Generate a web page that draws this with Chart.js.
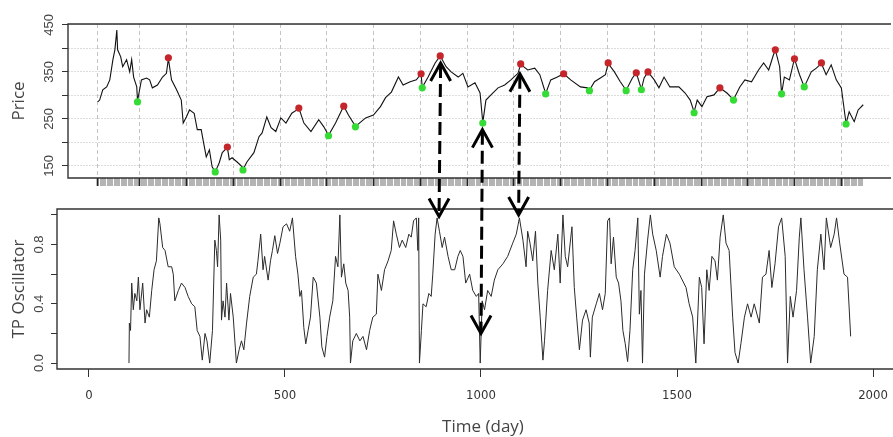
<!DOCTYPE html>
<html>
<head>
<meta charset="utf-8">
<script src="https://cdn.jsdelivr.net/npm/chart.js@4"></script>
<style>
  html, body { margin: 0; padding: 0; background: #fff; overflow: hidden; }
  #wrap { position: relative; width: 893px; height: 437px; }
  #priceChart { position: absolute; left: 0; top: 0; }
  #oscChart { position: absolute; left: 0; top: 200px; }
  #arrows { position: absolute; left: 0; top: 0; pointer-events: none; }
</style>
</head>
<body>
<div id="wrap">
  <canvas id="priceChart" width="893" height="200"></canvas>
  <canvas id="oscChart" width="893" height="237"></canvas>
  <canvas id="arrows" width="893" height="437"></canvas>
</div>
<script>
// price series (day, price)
const priceDays = [15,20,28,38,46,54,59,64,66,74,79,89,97,102,107,115,117,127,140,148,155,168,181,191,196,204,217,229,234,242,250,262,270,280,288,293,301,308,316,326,334,347,352,359,372,385,387,397,415,428,436,448,459,471,484,497,512,525,530,543,561,581,594,606,624,640,645,657,675,701,721,739,752,767,785,797,815,831,843,846,861,879,892,907,920,938,950,963,981,994,1001,1009,1022,1040,1057,1073,1091,1098,1116,1134,1147,1162,1175,1192,1208,1226,1251,1269,1274,1287,1302,1315,1322,1338,1353,1368,1384,1394,1407,1414,1424,1440,1452,1465,1480,1503,1519,1532,1542,1550,1562,1575,1593,1608,1626,1643,1659,1672,1689,1707,1720,1733,1745,1750,1761,1766,1773,1786,1799,1812,1824,1842,1855,1868,1880,1893,1906,1919,1931,1939,1952,1962,1975];
const priceValues = [286,290,312,318,333,376,397,439,397,382,361,376,350,376,339,318,288,333,337,333,316,322,339,347,378,333,312,290,241,254,269,262,227,227,191,169,184,148,137,156,178,189,163,167,158,148,142,158,178,212,220,254,231,223,252,241,262,269,273,241,223,248,233,215,241,269,277,258,234,252,258,276,295,307,339,322,329,333,346,317,339,369,384,361,350,339,347,318,327,305,242,290,301,316,322,333,347,366,354,358,344,304,333,339,346,333,318,316,311,329,337,344,368,350,329,311,337,348,313,337,350,333,316,339,318,318,305,290,265,290,276,297,301,316,305,291,318,333,329,354,369,354,386,397,361,304,339,333,378,344,318,350,358,368,344,365,333,316,240,265,244,269,280];

// turning points
const peakDays = [196,347,530,645,843,892,1098,1208,1322,1394,1424,1608,1750,1799,1868];
const peakPrices = [380,190,273,277,346,384,367,346,369,348,350,316,397,378,369];
const troughDays = [117,316,387,606,675,846,1001,1162,1274,1368,1407,1542,1643,1766,1824,1931];
const troughPrices = [286,137,141,214,233,316,241,303,310,310,312,263,290,303,318,239];

// TP oscillator (day, value)
const oscDays = [102,103,106,109,113,117,122,126,130,137,143,147,154,160,166,172,178,181,188,194,202,211,215,219,228,236,245,253,262,270,276,283,289,296,301,308,315,321,325,328,332,336,338,342,347,351,357,361,368,376,383,389,395,402,410,419,427,431,438,444,448,457,463,468,474,481,487,495,504,512,519,527,533,538,542,548,553,559,565,572,580,589,594,601,607,614,622,629,635,640,644,650,655,661,665,667,673,682,691,699,708,716,724,733,737,746,754,763,771,777,784,792,799,808,816,822,828,835,839,841,843,848,852,860,867,873,877,883,888,894,901,907,916,924,933,941,947,954,961,971,979,988,994,998,1003,1009,1017,1026,1034,1043,1056,1068,1081,1090,1098,1107,1115,1119,1125,1132,1139,1145,1151,1158,1162,1170,1179,1187,1196,1202,1209,1215,1221,1232,1238,1244,1251,1259,1268,1276,1279,1284,1294,1302,1310,1317,1323,1328,1332,1338,1345,1351,1357,1362,1368,1374,1380,1387,1393,1400,1404,1408,1412,1417,1425,1432,1438,1447,1457,1463,1473,1482,1493,1506,1523,1531,1540,1548,1557,1563,1569,1576,1582,1589,1597,1603,1610,1618,1625,1633,1642,1648,1656,1663,1672,1680,1689,1697,1710,1718,1727,1735,1742,1750,1759,1767,1776,1782,1789,1796,1805,1812,1816,1824,1833,1841,1850,1858,1867,1875,1881,1892,1901,1907,1915,1926,1935,1943];
const oscValues = [0.00,0.27,0.22,0.54,0.36,0.47,0.42,0.58,0.36,0.54,0.27,0.36,0.31,0.49,0.63,0.69,0.98,0.94,0.78,0.76,0.65,0.65,0.60,0.42,0.49,0.54,0.51,0.45,0.40,0.38,0.22,0.18,0.02,0.20,0.15,0.00,0.22,0.83,0.76,0.65,1.00,0.83,0.29,0.42,0.31,0.54,0.29,0.47,0.31,0.00,0.09,0.15,0.09,0.27,0.45,0.58,0.60,0.69,0.87,0.63,0.72,0.56,0.69,0.76,0.86,0.74,0.81,0.92,0.94,0.89,0.98,0.72,0.60,0.45,0.49,0.24,0.13,0.22,0.31,0.58,0.54,0.31,0.11,0.04,0.18,0.31,0.42,0.72,0.65,1.00,0.58,0.67,0.54,0.49,0.31,0.00,0.15,0.20,0.15,0.18,0.09,0.22,0.31,0.33,0.60,0.49,0.63,0.69,0.76,0.96,0.87,0.78,0.83,0.78,0.87,0.85,0.96,0.98,0.76,0.98,0.00,0.22,0.40,0.38,0.47,0.45,0.60,0.87,0.98,0.89,0.78,0.85,0.72,0.63,0.63,0.72,0.76,0.72,0.54,0.60,0.49,0.45,0.47,0.00,0.42,0.36,0.49,0.45,0.56,0.63,0.67,0.72,0.81,0.87,0.98,0.83,0.65,0.89,0.81,0.69,0.89,0.54,0.31,0.02,0.15,0.49,0.76,0.63,0.87,0.54,1.00,0.72,0.65,0.92,0.51,0.31,0.09,0.29,0.36,0.27,0.04,0.31,0.40,0.47,0.36,0.47,0.96,0.98,0.67,0.85,0.58,0.54,0.42,0.22,0.13,0.01,0.22,0.63,0.76,0.98,0.33,0.49,0.00,0.60,0.83,1.00,0.87,0.76,0.58,0.72,0.87,0.81,0.65,0.60,0.51,0.40,0.31,0.00,0.58,0.51,0.13,0.63,0.49,0.72,0.69,0.56,0.85,1.00,0.81,0.76,0.31,0.07,0.00,0.13,0.31,0.40,0.31,0.40,0.27,0.58,0.60,0.76,0.51,0.67,0.92,0.98,0.72,0.00,0.45,0.31,0.49,0.85,0.98,0.63,0.31,0.00,0.18,0.63,0.87,0.63,0.98,0.78,0.87,0.98,0.81,0.60,0.58,0.18];

// axes
const priceTicks = [150,200,250,300,350,400,450];
const priceLabels = [150,250,350,450];
const topGridDays = [15,122,242,362,482,601,721,841,961,1080,1200,1320,1440,1560,1679,1799,1919];
const oscTicks = [0,0.2,0.4,0.6,0.8,1.0];
const oscLabels = [0,0.4,0.8];
const timeTicks = [0,500,1000,1500,2000];

// arrows linking turning points between the panels
const arrowDays = [893,1000,1096];
const arrowPrice = [369,227,346];
const arrowOsc = [0.99,0.20,1.0];

const textColor = '#444';
const frameColor = '#333';

function toXY(xs, ys) {
  return xs.map((x, i) => ({x: x, y: ys[i]}));
}

function rotatedText(ctx, text, x, y, font) {
  ctx.save();
  ctx.font = font;
  ctx.fillStyle = textColor;
  ctx.translate(x, y);
  ctx.rotate(-Math.PI / 2);
  ctx.textAlign = 'center';
  ctx.textBaseline = 'middle';
  ctx.fillText(text, 0, 0);
  ctx.restore();
}

function drawFrame(ctx, area) {
  ctx.save();
  ctx.strokeStyle = frameColor;
  ctx.lineWidth = 1.4;
  ctx.beginPath();
  ctx.moveTo(area.right + 2, area.top);
  ctx.lineTo(area.left, area.top);
  ctx.lineTo(area.left, area.bottom);
  ctx.lineTo(area.right + 2, area.bottom);
  ctx.stroke();
  ctx.restore();
}

const pricePanel = {
  id: 'pricePanel',
  afterDraw(chart) {
    const ctx = chart.ctx;
    const y = chart.scales.y;
    drawFrame(ctx, chart.chartArea);
    priceLabels.forEach(v => rotatedText(ctx, String(v), 49, y.getPixelForValue(v), '13px "Liberation Sans", Arial, sans-serif'));
    rotatedText(ctx, 'Price', 19, (y.top + y.bottom) / 2, '17px "Open Sans", sans-serif');
  }
};

const oscPanel = {
  id: 'oscPanel',
  afterDraw(chart) {
    const ctx = chart.ctx;
    const x = chart.scales.x;
    const y = chart.scales.y;
    drawFrame(ctx, chart.chartArea);
    oscLabels.forEach(v => rotatedText(ctx, v.toFixed(1), 39, y.getPixelForValue(v), '13px "Liberation Sans", Arial, sans-serif'));
    rotatedText(ctx, 'TP Oscillator', 19, (y.top + y.bottom) / 2, '17px "Open Sans", sans-serif');
    ctx.save();
    ctx.font = '17px "Open Sans", sans-serif';
    ctx.fillStyle = textColor;
    ctx.textAlign = 'center';
    ctx.textBaseline = 'middle';
    ctx.fillText('Time (day)', x.getPixelForValue(1000) + 2, 227);
    ctx.restore();
  }
};

const priceChart = new Chart(document.getElementById('priceChart'), {
  data: {
    datasets: [{
      type: 'scatter',
      data: toXY(peakDays, peakPrices),
      backgroundColor: '#c4262b',
      borderWidth: 0,
      pointRadius: 3.6,
      order: 1
    }, {
      type: 'scatter',
      data: toXY(troughDays, troughPrices),
      backgroundColor: '#35dc35',
      borderWidth: 0,
      pointRadius: 3.6,
      order: 1
    }, {
      type: 'line',
      data: toXY(priceDays, priceValues),
      borderColor: '#111',
      borderWidth: 1.1,
      pointRadius: 0,
      tension: 0,
      order: 2
    }]
  },
  options: {
    responsive: false,
    animation: false,
    events: [],
    layout: { padding: { top: 24, left: 0, right: 0, bottom: 0 } },
    plugins: { legend: { display: false }, tooltip: { enabled: false } },
    scales: {
      x: {
        type: 'linear',
        min: -61,
        max: 2041,
        afterFit: s => { s.height = 22; s.paddingLeft = 0; s.paddingRight = 0; },
        // rug of observation days plus the dashed grid days
        afterBuildTicks: s => {
          const ticks = [];
          for (let d = priceDays[0]; d <= priceDays[priceDays.length - 1]; d += 3) ticks.push({value: d});
          topGridDays.forEach(d => ticks.push({value: d, major: true}));
          s.ticks = ticks;
        },
        ticks: { display: false },
        border: { display: false, dash: [4, 3] },
        grid: {
          drawTicks: true,
          tickLength: 8,
          color: c => (c.tick && c.tick.major) ? '#c4c4c4' : 'rgba(0,0,0,0)',
          tickColor: c => (c.tick && c.tick.major) ? '#222' : '#b4b4b4',
          tickWidth: c => (c.tick && c.tick.major) ? 1.6 : 1,
          lineWidth: 1
        }
      },
      y: {
        min: 124,
        max: 452,
        afterFit: s => { s.width = 68; },
        afterBuildTicks: s => { s.ticks = priceTicks.map(v => ({value: v})); },
        ticks: { display: false },
        border: { display: false, dash: [2, 1] },
        grid: {
          color: '#dcdcdc',
          tickColor: frameColor,
          tickLength: 6,
          lineWidth: 1
        }
      }
    }
  },
  plugins: [pricePanel]
});

const oscChart = new Chart(document.getElementById('oscChart'), {
  type: 'line',
  data: {
    datasets: [{
      data: toXY(oscDays, oscValues),
      borderColor: '#2b2b2b',
      borderWidth: 1,
      pointRadius: 0,
      tension: 0
    }]
  },
  options: {
    responsive: false,
    animation: false,
    events: [],
    layout: { padding: { top: 9, left: 0, right: 0, bottom: 0 } },
    plugins: { legend: { display: false }, tooltip: { enabled: false } },
    scales: {
      x: {
        type: 'linear',
        min: -81.6,
        max: 2051,
        afterFit: s => { s.height = 68; s.paddingLeft = 0; s.paddingRight = 0; },
        afterBuildTicks: s => { s.ticks = timeTicks.map(v => ({value: v})); },
        ticks: {
          padding: 11,
          color: '#333',
          font: { family: '"Liberation Sans Narrow", "DejaVu Sans Condensed", sans-serif', size: 13 },
          maxRotation: 0,
          autoSkip: false,
          callback: v => String(v)
        },
        border: { display: false },
        grid: { drawOnChartArea: false, tickLength: 8, tickColor: frameColor }
      },
      y: {
        min: -0.04,
        max: 1.04,
        afterFit: s => { s.width = 57; },
        afterBuildTicks: s => { s.ticks = oscTicks.map(v => ({value: v})); },
        ticks: { display: false },
        border: { display: false },
        grid: { drawOnChartArea: false, tickLength: 6, tickColor: frameColor }
      }
    }
  },
  plugins: [oscPanel]
});

// dashed double-headed arrows from the price panel down to the oscillator panel
(function drawArrows() {
  const ctx = document.getElementById('arrows').getContext('2d');
  const oscTop = 200;
  ctx.strokeStyle = '#000';
  ctx.lineWidth = 3;
  ctx.lineJoin = 'miter';
  arrowDays.forEach((d, i) => {
    const x1 = priceChart.scales.x.getPixelForValue(d);
    const y1 = priceChart.scales.y.getPixelForValue(arrowPrice[i]);
    const x2 = oscChart.scales.x.getPixelForValue(d);
    const y2 = oscTop + oscChart.scales.y.getPixelForValue(arrowOsc[i]);
    ctx.setLineDash([13, 6]);
    ctx.beginPath();
    ctx.moveTo(x1, y1 + 2);
    ctx.lineTo(x2, y2 - 2);
    ctx.stroke();
    ctx.setLineDash([]);
    ctx.beginPath();
    ctx.moveTo(x1 - 10, y1 + 18);
    ctx.lineTo(x1, y1);
    ctx.lineTo(x1 + 10, y1 + 18);
    ctx.stroke();
    ctx.beginPath();
    ctx.moveTo(x2 - 10, y2 - 18);
    ctx.lineTo(x2, y2);
    ctx.lineTo(x2 + 10, y2 - 18);
    ctx.stroke();
  });
})();
</script>
</body>
</html>
